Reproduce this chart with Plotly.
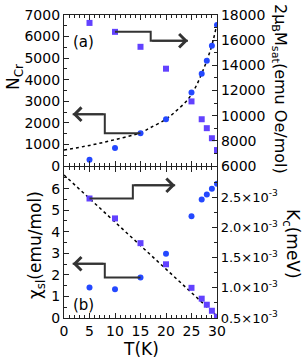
import plotly.graph_objects as go

# ---- data ----
T = [5, 10, 15, 20, 25, 27, 28, 29, 30]
N_cr = [280, 830, 1520, 2165, 3410, 4280, 4880, 5570, 6540]
M_sat = [17370, 16660, 15470, 13730, 11130, 9710, 9000, 8200, 7260]
chi_sl = [1.42, 1.33, 1.88, 2.98, 4.72, 5.50, 5.73, 6.00, 6.23]
K_c = [2.48e-3, 2.15e-3, 1.74e-3, 1.39e-3, 1.00e-3, 0.82e-3, 0.72e-3, 0.62e-3, 0.52e-3]

fitN_T = [0, 5, 10, 15, 17, 20, 22, 24, 25, 26, 27, 28, 29, 30]
fitN_v = [740, 950, 1220, 1540, 1780, 2170, 2550, 3000, 3320, 3750, 4280, 4880, 5600, 6600]
fitK_T = [0, 30]
fitK_v = [2.87e-3, 0.53e-3]

# arrows (data coordinates)
arrA_right_T = [10, 17, 17, 24.3]
arrA_right_v = [16660, 16660, 15950, 15950]
arrA_left_T = [15, 8, 8, 1.7]
arrA_left_v = [1520, 1520, 2400, 2400]
arrB_right_T = [5, 13.5, 13.5, 21.8]
arrB_right_v = [2.48e-3, 2.48e-3, 2.70e-3, 2.70e-3]
arrB_left_T = [15, 8, 8, 1.7]
arrB_left_v = [1.88, 1.88, 2.52, 2.52]

xticks = [0, 5, 10, 15, 20, 25, 30]
ytop_left_ticks = [0, 1000, 2000, 3000, 4000, 5000, 6000, 7000]
ytop_right_ticks = [6000, 8000, 10000, 12000, 14000, 16000, 18000]
ytop_right_text = ["6000", "8000", "10000", "12000", "14000", "16000", "18000"]
ybot_left_ticks = [0, 1, 2, 3, 4, 5, 6]
ybot_right_ticks = [0.5e-3, 1.0e-3, 1.5e-3, 2.0e-3, 2.5e-3]
ybot_right_text = ["0.5×10<sup>-3</sup>", "1.0×10<sup>-3</sup>", "1.5×10<sup>-3</sup>",
                   "2.0×10<sup>-3</sup>", "2.5×10<sup>-3</sup>"]

CIRC = "#2448ff"
SQ = "#6242ff"
LINE = "#333333"
FONT = "DejaVu Sans"

L, R, Tm, B = 64, 89, 15, 41
W, H = 306 - L - R, 359 - Tm - B

fig = go.Figure()

# top panel (x2, y3 left, y4 right)
fig.add_trace(go.Scatter(x=fitN_T, y=fitN_v, mode="lines", xaxis="x2", yaxis="y3",
                         line=dict(color="black", width=1.5, dash="dot", shape="spline")))
fig.add_trace(go.Scatter(x=T, y=N_cr, mode="markers", xaxis="x2", yaxis="y3",
                         marker=dict(symbol="circle", size=6, color=CIRC)))
fig.add_trace(go.Scatter(x=T, y=M_sat, mode="markers", xaxis="x2", yaxis="y4",
                         marker=dict(symbol="square", size=6, color=SQ)))
fig.add_trace(go.Scatter(x=arrA_right_T, y=arrA_right_v, mode="lines", xaxis="x2", yaxis="y4",
                         line=dict(color=LINE, width=2)))
fig.add_trace(go.Scatter(x=arrA_left_T, y=arrA_left_v, mode="lines", xaxis="x2", yaxis="y3",
                         line=dict(color=LINE, width=2)))

# bottom panel (x, y left, y2 right)
fig.add_trace(go.Scatter(x=fitK_T, y=fitK_v, mode="lines", xaxis="x", yaxis="y2",
                         line=dict(color="black", width=1.5, dash="dot")))
fig.add_trace(go.Scatter(x=T, y=chi_sl, mode="markers", xaxis="x", yaxis="y",
                         marker=dict(symbol="circle", size=6, color=CIRC)))
fig.add_trace(go.Scatter(x=T, y=K_c, mode="markers", xaxis="x", yaxis="y2",
                         marker=dict(symbol="square", size=6, color=SQ)))
fig.add_trace(go.Scatter(x=arrB_right_T, y=arrB_right_v, mode="lines", xaxis="x", yaxis="y2",
                         line=dict(color=LINE, width=2)))
fig.add_trace(go.Scatter(x=arrB_left_T, y=arrB_left_v, mode="lines", xaxis="x", yaxis="y",
                         line=dict(color=LINE, width=2)))

# arrowheads (open chevrons)
def head(xe, ye, xs, ys, xref, yref):
    fig.add_annotation(x=xe, y=ye, ax=xs, ay=ys, xref=xref, yref=yref,
                       axref=xref, ayref=yref, showarrow=True, arrowhead=4,
                       arrowsize=1.3, arrowwidth=2, arrowcolor=LINE, text="")

head(arrA_right_T[-1], arrA_right_v[-1], arrA_right_T[-2], arrA_right_v[-2], "x2", "y4")
head(arrA_left_T[-1], arrA_left_v[-1], arrA_left_T[-2], arrA_left_v[-2], "x2", "y3")
head(arrB_right_T[-1], arrB_right_v[-1], arrB_right_T[-2], arrB_right_v[-2], "x", "y2")
head(arrB_left_T[-1], arrB_left_v[-1], arrB_left_T[-2], arrB_left_v[-2], "x", "y")

ax_common = dict(showline=True, linecolor="#222", linewidth=1.2, ticks="inside",
                 ticklen=5, tickcolor="#222", showgrid=False, zeroline=False,
                 automargin=False)
tickf = dict(family=FONT, size=14, color="black")
minor_common = dict(ticks="inside", ticklen=3, tickcolor="#222", showgrid=False)

fig.update_layout(
    width=306, height=359,
    margin=dict(l=L, r=R, t=Tm, b=B, autoexpand=False),
    paper_bgcolor="white", plot_bgcolor="white",
    showlegend=False,
    font=dict(family=FONT, color="black"),
    xaxis=dict(domain=[0, 1], range=[0, 30], anchor="y", tickvals=xticks, mirror="ticks",
               minor=dict(dtick=1, **minor_common), ticklabelstandoff=0,
               tickfont=tickf, **ax_common),
    xaxis2=dict(domain=[0, 1], range=[0, 30], anchor="y3", tickvals=xticks, mirror="ticks",
                showticklabels=False, minor=dict(dtick=1, **minor_common), **ax_common),
    yaxis=dict(domain=[0, 0.498], range=[0, 7], anchor="x", tickvals=ybot_left_ticks,
               minor=dict(dtick=0.5, **minor_common), tickfont=tickf, **ax_common),
    yaxis2=dict(domain=[0, 0.498], range=[0.5e-3, 3.0e-3], overlaying="y", side="right",
                anchor="x", tickvals=ybot_right_ticks, ticktext=ybot_right_text,
                minor=dict(dtick=0.25e-3, **minor_common),
                tickfont=dict(family=FONT, size=13, color="black"), **ax_common),
    yaxis3=dict(domain=[0.502, 1], range=[0, 7000], anchor="x2", tickvals=ytop_left_ticks,
                minor=dict(dtick=500, **minor_common), tickfont=tickf, **ax_common),
    yaxis4=dict(domain=[0.502, 1], range=[6000, 18000], overlaying="y3", side="right",
                anchor="x2", tickvals=ytop_right_ticks, ticktext=ytop_right_text,
                minor=dict(dtick=1000, **minor_common), tickfont=tickf, **ax_common),
)

tfont = dict(family=FONT, size=17, color="black")
lfont = dict(family=FONT, size=15, color="black")
anns = [
    ("N<sub>Cr</sub>", 14, 77, -90, tfont),
    ("χ<sub>sl</sub>(emu/mol)", 36, 245, -90, tfont),
    ("2μ<sub>B</sub>M<sub>sat</sub>(emu Oe/mol)", 280, 89, 90, dict(family=FONT, size=16, color="black")),
    ("K<sub>c</sub>(meV)", 292, 244, 90, tfont),
    ("T(K)", 141, 349, 0, tfont),
    ("(a)", 83, 42, 0, lfont),
    ("(b)", 83, 305, 0, lfont),
]
for text, px, py, ang, f in anns:
    fig.add_annotation(text=text, x=(px - L) / W, y=1 - (py - Tm) / H,
                       xref="paper", yref="paper", showarrow=False,
                       textangle=ang, xanchor="center", yanchor="middle", font=f)

fig.write_html("out.html", config={"displayModeBar": False},
               post_script="document.body.style.margin='0';document.body.style.overflow='hidden';")
